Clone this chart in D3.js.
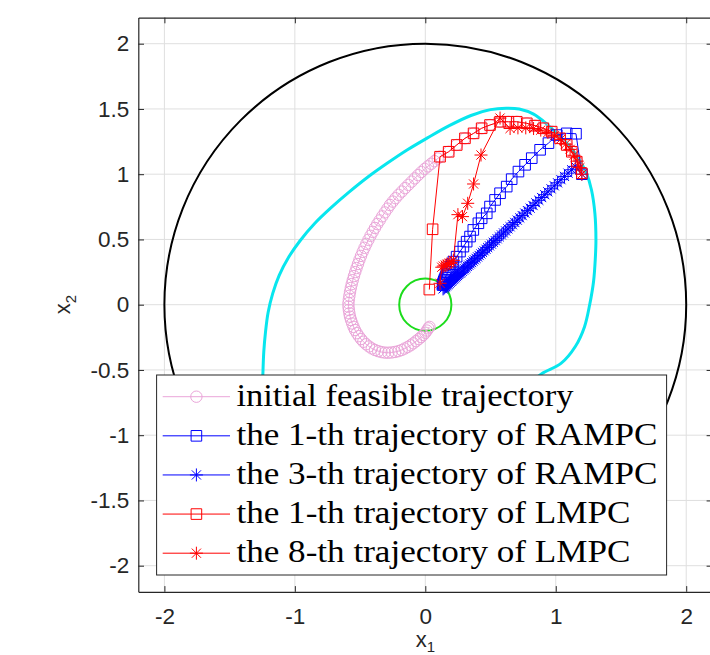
<!DOCTYPE html>
<html><head><meta charset="utf-8">
<script src="https://cdn.jsdelivr.net/npm/d3@7"></script>
<style>body{margin:0;background:#fff;} svg{display:block;}</style>
</head><body><svg id="chart" width="710" height="655"></svg>
<script>
// ---------- data ----------
const xTicks = [-2, -1, 0, 1, 2];
const yTicks = [-2, -1.5, -1, -0.5, 0, 0.5, 1, 1.5, 2];
const outerRadius = 2;      // black state-constraint circle
const terminalRadius = 0.2; // green terminal set

const cyanSet = [[0.89,-0.53],[1.04,-0.45],[1.15,-0.32],[1.22,-0.17],[1.26,0.0],[1.29,0.18],[1.303,0.35],[1.308,0.50],[1.30,0.70],[1.274,0.879],[1.236,1.006],[1.18,1.11],[1.11,1.21],[1.03,1.29],[0.93,1.385],[0.83,1.46],[0.72,1.50],[0.62,1.506],[0.50,1.495],[0.35,1.45],[0.18,1.37],[0.02,1.28],[-0.14,1.185],[-0.29,1.085],[-0.44,0.978],[-0.585,0.862],[-0.72,0.745],[-0.85,0.62],[-0.96,0.49],[-1.05,0.36],[-1.12,0.225],[-1.17,0.085],[-1.205,-0.06],[-1.225,-0.21],[-1.238,-0.36],[-1.245,-0.53],[-1.25,-0.70],[-1.24,-0.88],[-1.20,-1.05],[-1.12,-1.20],[-1.02,-1.32],[-0.90,-1.42],[-0.76,-1.49],[-0.62,-1.51],[-0.50,-1.49],[-0.32,-1.43],[-0.15,-1.35],[0.02,-1.26],[0.18,-1.16],[0.33,-1.05],[0.48,-0.93],[0.61,-0.80],[0.74,-0.66]];

const initialTraj = [[1.200,1.007],[1.161,1.096],[1.123,1.172],[1.084,1.224],[1.033,1.275],[0.969,1.326],[0.905,1.352],[0.841,1.372],[0.778,1.39],[0.701,1.402],[0.637,1.402],[0.573,1.402],[0.496,1.377],[0.432,1.352],[0.37,1.313],[0.304,1.275],[0.241,1.224],[0.179,1.172],[0.113,1.134],
[0.095,1.12],[0.07,1.10],[0.045,1.08],[0.02,1.06],[-0.005,1.04],[-0.03,1.017],[-0.055,0.993],[-0.08,0.968],[-0.105,0.943],[-0.13,0.918],[-0.155,0.893],[-0.18,0.867],[-0.205,0.842],[-0.228,0.816],[-0.25,0.79],[-0.271,0.764],[-0.29,0.736],[-0.31,0.707],[-0.33,0.677],[-0.35,0.646],[-0.368,0.618],[-0.386,0.588],[-0.403,0.558],[-0.42,0.528],[-0.436,0.497],[-0.452,0.466],[-0.466,0.436],[-0.48,0.405],[-0.493,0.374],[-0.505,0.343],[-0.516,0.312],[-0.527,0.281],[-0.537,0.25],[-0.547,0.219],[-0.556,0.188],[-0.564,0.158],[-0.571,0.128],[-0.577,0.098],[-0.582,0.068],[-0.586,0.04],[-0.589,0.012],
[-0.589,-0.015],[-0.586,-0.04],[-0.582,-0.066],[-0.577,-0.092],[-0.569,-0.118],[-0.56,-0.144],[-0.55,-0.17],[-0.539,-0.194],[-0.525,-0.218],[-0.51,-0.241],[-0.493,-0.263],[-0.475,-0.284],[-0.454,-0.303],[-0.432,-0.32],[-0.41,-0.335],[-0.386,-0.347],[-0.361,-0.356],[-0.336,-0.363],[-0.31,-0.367],[-0.284,-0.368],[-0.258,-0.366],[-0.232,-0.362],[-0.206,-0.356],[-0.181,-0.347],[-0.158,-0.336],[-0.135,-0.324],[-0.113,-0.311],[-0.092,-0.296],[-0.071,-0.28],[-0.051,-0.264],[-0.032,-0.248],[-0.015,-0.232],[0.0,-0.215],[0.012,-0.198],[0.023,-0.181],[0.032,-0.17]];

const rampc1 = [[1.2,1.0],[1.155,1.31],[1.084,1.313],[1.008,1.30],[0.944,1.238],[0.88,1.187],[0.816,1.123],[0.765,1.072],[0.714,1.02],[0.662,0.962],[0.624,0.905],[0.573,0.854],[0.535,0.803],[0.496,0.752],[0.471,0.70],[0.432,0.662],[0.407,0.624],[0.368,0.573],[0.343,0.522],[0.317,0.483],[0.292,0.445],[0.266,0.407],[0.24,0.368],[0.215,0.33],[0.203,0.31],[0.192,0.29],[0.182,0.27],[0.173,0.252],[0.165,0.235],[0.158,0.22],[0.152,0.205],[0.147,0.192],[0.142,0.18],[0.138,0.168],[0.135,0.158],[0.132,0.15]];

const rampc3 = [[1.2,1.0],[1.150,1.060],[1.122,1.034],[1.094,1.008],[1.067,0.983],[1.040,0.958],[1.014,0.934],[0.989,0.911],[0.964,0.888],[0.939,0.865],[0.916,0.843],[0.892,0.821],[0.870,0.800],[0.847,0.780],[0.826,0.760],[0.804,0.740],[0.783,0.721],[0.763,0.702],[0.743,0.683],[0.724,0.665],[0.705,0.648],[0.686,0.630],[0.668,0.613],[0.650,0.597],[0.633,0.581],[0.616,0.565],[0.599,0.550],[0.583,0.535],[0.567,0.520],[0.551,0.505],[0.536,0.491],[0.521,0.478],[0.507,0.464],[0.492,0.451],[0.478,0.438],[0.465,0.425],[0.451,0.413],[0.438,0.401],[0.426,0.389],[0.413,0.377],[0.401,0.366],[0.389,0.355],[0.377,0.344],[0.366,0.334],[0.355,0.323],[0.344,0.313],[0.333,0.303],[0.323,0.294],[0.312,0.284],[0.302,0.275],[0.293,0.266],[0.283,0.257],[0.274,0.248],[0.265,0.240],[0.256,0.232],[0.247,0.224],[0.238,0.216],[0.230,0.208],[0.222,0.200],[0.214,0.193],[0.206,0.186],[0.198,0.179],[0.191,0.172],[0.183,0.165],[0.176,0.158],[0.169,0.152],[0.162,0.145],[0.156,0.139],[0.149,0.133],[0.143,0.127],[0.136,0.121]];

const lmpc1 = [[1.200,1.007],[1.161,1.096],[1.123,1.172],[1.084,1.224],[1.033,1.275],[0.969,1.326],[0.905,1.352],[0.841,1.372],[0.778,1.39],[0.701,1.402],[0.637,1.402],[0.573,1.402],[0.496,1.377],[0.432,1.352],[0.37,1.313],[0.304,1.275],[0.241,1.224],[0.179,1.172],[0.113,1.134],[0.056,0.578],[0.031,0.116]];

const lmpc8 = [[1.2,1.0],[1.185,1.05],[1.165,1.10],[1.14,1.145],[1.11,1.19],[1.075,1.23],[1.035,1.265],[0.99,1.295],[0.94,1.32],[0.885,1.338],[0.83,1.35],[0.77,1.355],[0.71,1.355],[0.65,1.35],[0.573,1.43],[0.427,1.147],[0.37,0.925],[0.325,0.777],[0.285,0.675],[0.25,0.69],[0.215,0.34],[0.2,0.325],[0.183,0.316],[0.167,0.31],[0.152,0.303],[0.138,0.296],[0.126,0.287],[0.113,0.164]];

const legendLabels = ["initial feasible trajectory","the 1-th trajectory of RAMPC","the 3-th trajectory of RAMPC","the 1-th trajectory of LMPC","the 8-th trajectory of LMPC"];

// ---------- styles ----------
const PINK = "#eaa5d9", BLUE = "#0000ff", RED = "#ff0000";
const series = [
  {data: initialTraj, color: PINK, marker: "circle"},
  {data: rampc1, color: BLUE, marker: "square"},
  {data: rampc3, color: BLUE, marker: "star"},
  {data: lmpc1, color: RED, marker: "square"},
  {data: lmpc8, color: RED, marker: "star"}
];
const legendTextWidths = [337, 421, 421, 394, 394];

// ---------- chart ----------
const svg = d3.select("#chart");
const L = 138.3, R = 712.3, T = 17.6, B = 591.8;
const x = d3.scaleLinear().domain([-2.2, 2.2]).range([L, R]);
const y = d3.scaleLinear().domain([-2.2, 2.2]).range([B, T]);

svg.append("rect").attr("x", 0).attr("y", 0).attr("width", 710).attr("height", 655).attr("fill", "#fff");
svg.append("defs").append("clipPath").attr("id", "clip")
  .append("rect").attr("x", L).attr("y", T).attr("width", R - L).attr("height", B - T);

// grid
const grid = svg.append("g").attr("stroke", "#dfdfdf").attr("stroke-width", 1);
grid.selectAll(".gx").data(xTicks).join("line")
  .attr("x1", d => x(d)).attr("x2", d => x(d)).attr("y1", T).attr("y2", B);
grid.selectAll(".gy").data(yTicks).join("line")
  .attr("y1", d => y(d)).attr("y2", d => y(d)).attr("x1", L).attr("x2", R);

const plot = svg.append("g").attr("clip-path", "url(#clip)");

// black circle
plot.append("ellipse").attr("cx", x(0)).attr("cy", y(0))
  .attr("rx", x(outerRadius) - x(0)).attr("ry", y(0) - y(outerRadius))
  .attr("fill", "none").attr("stroke", "#000").attr("stroke-width", 2);

// cyan set
plot.append("path").datum(cyanSet)
  .attr("d", d3.line().x(d => x(d[0])).y(d => y(d[1])).curve(d3.curveCatmullRomClosed.alpha(0.5)))
  .attr("fill", "none").attr("stroke", "#08e6ee").attr("stroke-width", 3);

// green terminal circle
plot.append("ellipse").attr("cx", x(0)).attr("cy", y(0))
  .attr("rx", x(terminalRadius) - x(0)).attr("ry", y(0) - y(terminalRadius))
  .attr("fill", "none").attr("stroke", "#1cdc1c").attr("stroke-width", 2);

function markerPath(type) {
  if (type === "square") { const h = 5.3; return `M${-h},${-h}H${h}V${h}H${-h}Z`; }
  if (type === "circle") { const r = 5.7; return `M${r},0A${r},${r},0,1,1,${-r},0A${r},${r},0,1,1,${r},0Z`; }
  const r = 6.5, a = r * 0.7071;
  return `M${-r},0H${r}M0,${-r}V${r}M${-a},${-a}L${a},${a}M${-a},${a}L${a},${-a}`;
}

const lineGen = d3.line().x(d => x(d[0])).y(d => y(d[1]));
series.forEach(s => {
  const g = plot.append("g");
  g.append("path").datum(s.data).attr("d", lineGen)
    .attr("fill", "none").attr("stroke", s.color).attr("stroke-width", 1);
  g.selectAll("path.m").data(s.data).join("path").attr("class", "m")
    .attr("transform", d => `translate(${x(d[0])},${y(d[1])})`)
    .attr("d", markerPath(s.marker))
    .attr("fill", "none").attr("stroke", s.color).attr("stroke-width", 1);
});

// axes
const axColor = "#262626";
const tk = 5.7;
const fontTick = "'Liberation Sans', Arial, Helvetica, sans-serif";
function styleAxis(g, showLabels) {
  g.select(".domain").attr("stroke", axColor).attr("stroke-width", 1.2);
  g.selectAll(".tick line").attr("stroke", axColor).attr("stroke-width", 1);
  g.selectAll(".tick text").attr("fill", axColor).style("font-family", fontTick).style("font-size", "22.5px");
  if (!showLabels) g.selectAll(".tick text").remove();
}
const fmt = d => String(d);
svg.append("g").attr("transform", `translate(0,${B})`)
  .call(d3.axisBottom(x).tickValues(xTicks).tickSizeInner(-tk).tickSizeOuter(0).tickPadding(16).tickFormat(fmt))
  .call(g => styleAxis(g, true));
svg.append("g").attr("transform", `translate(0,${T})`)
  .call(d3.axisTop(x).tickValues(xTicks).tickSizeInner(-tk).tickSizeOuter(0))
  .call(g => styleAxis(g, false));
svg.append("g").attr("transform", `translate(${L},0)`)
  .call(d3.axisLeft(y).tickValues(yTicks).tickSizeInner(-tk).tickSizeOuter(0).tickPadding(9).tickFormat(fmt))
  .call(g => styleAxis(g, true));
svg.append("g").attr("transform", `translate(${R},0)`)
  .call(d3.axisRight(y).tickValues(yTicks).tickSizeInner(-tk).tickSizeOuter(0))
  .call(g => styleAxis(g, false));

// axis labels
const xl = svg.append("text").attr("x", x(0)).attr("y", 647).attr("text-anchor", "middle")
  .attr("fill", axColor).style("font-family", fontTick).style("font-size", "22px");
xl.append("tspan").text("x");
xl.append("tspan").attr("dy", 5).style("font-size", "15px").text("1");
const yl = svg.append("text").attr("transform", `translate(70,${y(0)}) rotate(-90)`).attr("text-anchor", "middle")
  .attr("fill", axColor).style("font-family", fontTick).style("font-size", "22px");
yl.append("tspan").text("x");
yl.append("tspan").attr("dy", 6).style("font-size", "15px").text("2");

// legend
const lg = svg.append("g");
lg.append("rect").attr("x", 156.6).attr("y", 375).attr("width", 510).attr("height", 200)
  .attr("fill", "#fff").attr("stroke", "#262626").attr("stroke-width", 1);
const rowY = d3.scalePoint().domain(d3.range(legendLabels.length)).range([396.7, 553.2]);
legendLabels.forEach((lab, i) => {
  const s = series[i], cy = rowY(i);
  lg.append("line").attr("x1", 162.7).attr("x2", 230).attr("y1", cy).attr("y2", cy)
    .attr("stroke", s.color).attr("stroke-width", 1);
  lg.append("path").attr("transform", `translate(196.4,${cy})`).attr("d", markerPath(s.marker))
    .attr("fill", "none").attr("stroke", s.color).attr("stroke-width", 1);
  lg.append("text").attr("x", 236.4).attr("y", cy + 9).text(lab)
    .attr("textLength", legendTextWidths[i]).attr("lengthAdjust", "spacingAndGlyphs")
    .attr("fill", "#000").style("font-family", "'Liberation Serif', 'Times New Roman', serif").style("font-size", "31px");
});
</script>
</body></html>
